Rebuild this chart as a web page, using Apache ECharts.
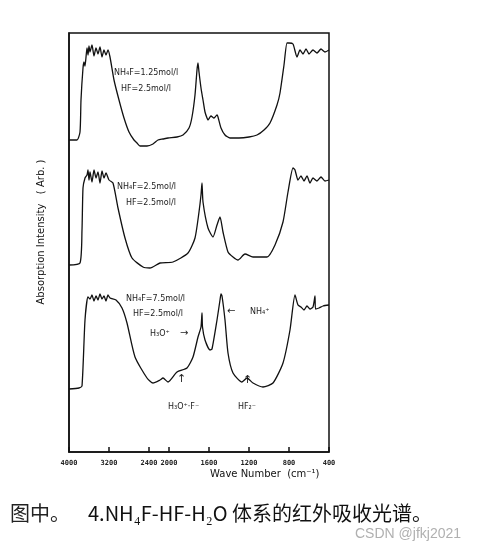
<!DOCTYPE html>
<html><head><meta charset="utf-8">
<script src="https://cdn.jsdelivr.net/npm/echarts@6/dist/echarts.min.js"></script>
<style>html,body{margin:0;padding:0;background:#fff}#c{width:495px;height:552px}</style>
</head><body><div id="c"></div>
<script>
// Wavenumbers (cm-1) and absorption (arbitrary units, stacked traces)
const trace1 = [[4000,312],[3840,312],[3780,320],[3760,352],[3720,384],[3700,390],[3680,386],[3640,404],[3620,397],[3600,406],[3580,400],[3540,407],[3500,396],[3460,404],[3420,398],[3380,405],[3340,395],[3300,402],[3260,397],[3220,402],[3180,395],[3100,372],[3000,352],[2900,334],[2800,320],[2700,312],[2640,309],[2580,306],[2440,306],[2320,308],[2220,312],[2120,313],[2020,314],[1920,315],[1860,317],[1800,324],[1770,335],[1740,357],[1720,382],[1710,389],[1700,380],[1680,364],[1660,352],[1640,340],[1620,334],[1610,332],[1580,336],[1550,334],[1520,337],[1510,335],[1480,324],[1440,317],[1390,314],[1300,314],[1200,315],[1120,317],[1050,322],[990,329],[920,347],[890,359],[850,387],[820,409],[800,409],[760,408],[720,395],[690,402],[660,398],[630,403],[600,398],[560,402],[520,399],[480,403],[440,400],[400,402]];
const trace2 = [[4000,187],[3780,189],[3740,222],[3720,264],[3680,274],[3640,277],[3620,282],[3600,272],[3580,280],[3540,270],[3500,282],[3460,274],[3420,280],[3380,269],[3340,281],[3300,274],[3260,279],[3200,272],[3120,269],[3020,244],[2880,214],[2740,194],[2520,185],[2380,184],[2180,189],[1960,190],[1810,199],[1740,214],[1700,240],[1680,257],[1670,269],[1660,250],[1610,224],[1560,215],[1520,227],[1490,235],[1460,220],[1410,200],[1360,195],[1310,192],[1240,198],[1160,195],[1020,195],[940,207],[860,230],[810,260],[760,284],[740,282],[710,272],[680,276],[650,271],[620,276],[590,269],[560,274],[520,271],[480,275],[440,271],[400,272]];
const trace3 = [[4000,63],[3800,64],[3740,66],[3680,132],[3620,155],[3580,153],[3540,157],[3500,151],[3460,156],[3420,152],[3380,158],[3340,153],[3300,156],[3260,151],[3220,157],[3180,154],[3060,152],[2940,144],[2840,129],[2680,95],[2440,74],[2320,69],[2180,72],[2120,74],[2020,70],[1920,80],[1820,84],[1760,95],[1710,115],[1680,125],[1670,139],[1665,125],[1640,112],[1590,102],[1570,103],[1520,132],[1490,152],[1480,158],[1470,156],[1440,132],[1410,99],[1360,79],[1270,70],[1220,74],[1160,69],[1060,65],[960,69],[860,89],[790,122],[740,157],[710,147],[680,145],[650,142],[620,146],[590,143],[560,145],[540,156],[535,143],[500,144],[460,146],[400,147]];
const tickWavenumbers = [4000,3200,2400,2000,1600,1200,800,400];

// wavenumber axis: 4000-2000 at half scale
const toPos = w => w > 2000 ? 2000 + (w - 2000) / 2 : w;
const toW = p => p > 2000 ? 2000 + (p - 2000) * 2 : p;
const mk = d => d.map(([w, y]) => [toPos(w), y]);

const chart = echarts.init(document.getElementById('c'));
const lbl = {fontFamily:'DejaVu Sans', fontSize:8, fill:'#222'};
const T = (x, y, text, extra) => ({type:'text', left:x, top:y, style:Object.assign({text}, lbl, extra||{})});
const line = d => ({type:'line', data:mk(d), showSymbol:false, smooth:0.2, lineStyle:{color:'#111', width:1.3}});
chart.setOption({
  animation:false,
  grid:{left:69, right:166, top:33, bottom:100, show:true, borderColor:'#111', borderWidth:1.5},
  xAxis:{type:'value', inverse:true, min:400, max:3000,
    axisLine:{lineStyle:{color:'#111', width:1.5}},
    axisTick:{inside:true, length:5, customValues:tickWavenumbers.map(toPos), lineStyle:{color:'#111', width:1.5}},
    axisLabel:{customValues:tickWavenumbers.map(toPos), formatter:v=>String(Math.round(toW(v))), fontSize:7, fontWeight:'bold', color:'#222', fontFamily:'DejaVu Sans Mono', margin:8},
    splitLine:{show:false}},
  yAxis:{type:'value', min:0, max:419, axisLabel:{show:false}, axisTick:{show:false}, splitLine:{show:false}, axisLine:{show:true, lineStyle:{color:'#111', width:1.5}}},
  series:[line(trace1), line(trace2), line(trace3)],
  graphic:[
    T(114,69,'NH₄F=1.25mol/l'), T(121,85,'HF=2.5mol/l'),
    T(117,183,'NH₄F=2.5mol/l'), T(126,199,'HF=2.5mol/l'),
    T(126,295,'NH₄F=7.5mol/l'), T(133,310,'HF=2.5mol/l'),
    T(150,330,'H₃O⁺'), T(180,328,'→',{fontSize:10}),
    T(227,306,'←',{fontSize:10}), T(250,308,'NH₄⁺'),
    T(177,374,'↑',{fontSize:11}), T(168,403,'H₃O⁺·F⁻'),
    T(243,375,'↑',{fontSize:11}), T(238,403,'HF₂⁻'),
    T(210,469,'Wave Number  (cm⁻¹)',{fontSize:10, fill:'#111'}),
    {type:'text', x:41, y:232, rotation:Math.PI/2, style:{text:'Absorption Intensity   ( Arb. )', fontFamily:'DejaVu Sans', fontSize:10, fill:'#111', align:'center', verticalAlign:'middle'}},
    T(10,503,'图中。',{fontFamily:'Noto Sans CJK SC', fontSize:20, fill:'#222'}),
    T(88,503,'4.NH₄F-HF-H₂O 体系的红外吸收光谱。',{fontFamily:'Noto Sans CJK SC', fontSize:20, fill:'#111'}),
    T(355,527,'CSDN @jfkj2021',{fontFamily:'Liberation Sans', fontSize:14, fill:'#b0b0b0'})
  ]
});
</script></body></html>
